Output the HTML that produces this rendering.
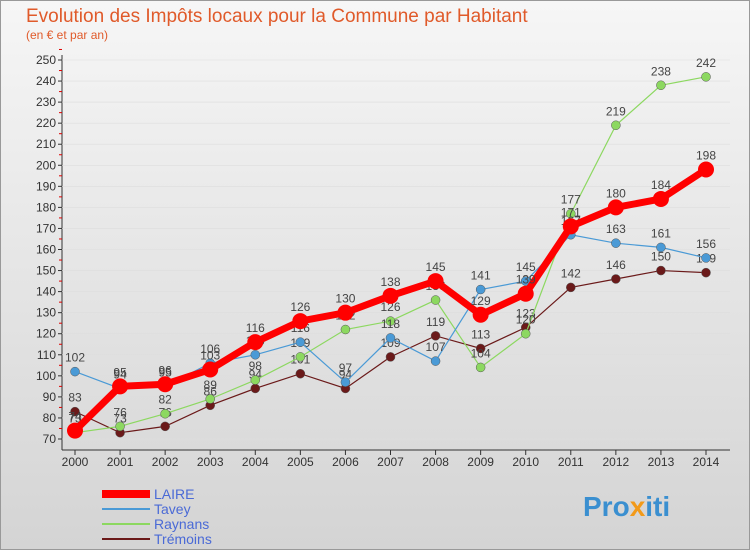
<!DOCTYPE html>
<html><head><meta charset="utf-8"><style>
body{margin:0;width:750px;height:550px;overflow:hidden;font-family:"Liberation Sans",sans-serif}
#c{position:absolute;left:0;top:0}
</style></head><body>
<svg id="c" width="750" height="550" xmlns="http://www.w3.org/2000/svg">
<defs><linearGradient id="bg" x1="0" y1="0" x2="0" y2="1"><stop offset="0" stop-color="#f6f6f6"/><stop offset="1" stop-color="#d4d4d4"/></linearGradient></defs>
<rect x="0.5" y="0.5" width="749" height="549" fill="url(#bg)" stroke="#999"/>
<text x="26" y="22" font-size="19" fill="#e05a2a">Evolution des Impôts locaux pour la Commune par Habitant</text>
<text x="26" y="39" font-size="12" fill="#e05a2a">(en € et par an)</text>
<g id="axes"></g><g id="series"></g><g id="legend"></g>
<text x="583" y="516" font-size="28" font-weight="bold" fill="#3a8fd0">Pro<tspan fill="#f29a1a">x</tspan>iti</text>
</svg>
<script>
const years=[2000,2001,2002,2003,2004,2005,2006,2007,2008,2009,2010,2011,2012,2013,2014];
const laire=[74,95,96,103,116,126,130,138,145,129,139,171,180,184,198];
const tavey=[102,94,95,106,110,116,97,118,107,141,145,167,163,161,156];
const raynans=[73,76,82,89,98,109,122,126,136,104,120,177,219,238,242];
const tremoins=[83,73,76,86,94,101,94,109,119,113,123,142,146,150,149];
const yTicks=[70,80,90,100,110,120,130,140,150,160,170,180,190,200,210,220,230,240,250];
const NS="http://www.w3.org/2000/svg";
function X(i){return 75+i*(706-75)/(years.length-1);}
function Y(v){return 439-(v-70)*(439-60)/180;}
function mk(t,a,p){const e=document.createElementNS(NS,t);for(const k in a)e.setAttribute(k,a[k]);p.appendChild(e);return e;}
const ax=document.getElementById('axes');
mk('line',{x1:62,y1:55,x2:62,y2:450,stroke:'#333'},ax);
mk('line',{x1:62,y1:450,x2:730,y2:450,stroke:'#333'},ax);
yTicks.forEach(v=>{
 const g=mk('line',{x1:62,y1:Y(v),x2:730,y2:Y(v),stroke:'#ddd','stroke-width':0.6},ax);
 
 
 mk('line',{x1:58,y1:Y(v),x2:62,y2:Y(v),stroke:'#333'},ax);
 mk('line',{x1:59,y1:Y(v+5),x2:62,y2:Y(v+5),stroke:'#d00'},ax);
 const t=mk('text',{x:56,y:Y(v)+4,'font-size':12,'text-anchor':'end',fill:'#333'},ax);t.textContent=v;
 
 
});
years.forEach((y,i)=>{
 mk('line',{x1:X(i),y1:450,x2:X(i),y2:455,stroke:'#333'},ax);
 const t=mk('text',{x:X(i),y:466,'font-size':12,'text-anchor':'middle',fill:'#333'},ax);t.textContent=y;
 
 
});
const S=document.getElementById('series');
const defs=[[tremoins,'#6b1a1a',1.2,4.5,'tremoins'],[raynans,'#8cd860',1.2,4.5,'raynans'],[tavey,'#4a9ad6',1.2,4.5,'tavey'],[laire,'#ff0000',7,8,'laire']];
defs.forEach(([d,c,w,r,n])=>{
 const g=mk('g',{},S);
 
 
 mk('polyline',{points:d.map((v,i)=>X(i)+','+Y(v)).join(' '),fill:'none',stroke:c,'stroke-width':w},g);
 d.forEach((v,i)=>{
  const p=mk('circle',{cx:X(i),cy:Y(v),r:r,fill:c,stroke:n=='laire'?'none':'#555','stroke-width':0.5},g);
  
  
  const t=mk('text',{x:X(i),y:Y(v)-10,'font-size':12,'text-anchor':'middle',fill:'#444'},g);t.textContent=v;
  
  
 });
});
const L=document.getElementById('legend');
[['LAIRE','#ff0000',8],['Tavey','#4a9ad6',2],['Raynans','#8cd860',2],['Trémoins','#6b1a1a',2]].forEach(([n,c,w],k)=>{
 const g=mk('g',{},L);
 
 
 const y=494+k*15;
 mk('line',{x1:102,y1:y,x2:150,y2:y,stroke:c,'stroke-width':w},g);
 const t=mk('text',{x:154,y:y+5,'font-size':14,fill:'#4a6ad6'},g);t.textContent=n;
});
</script>
</body></html>
